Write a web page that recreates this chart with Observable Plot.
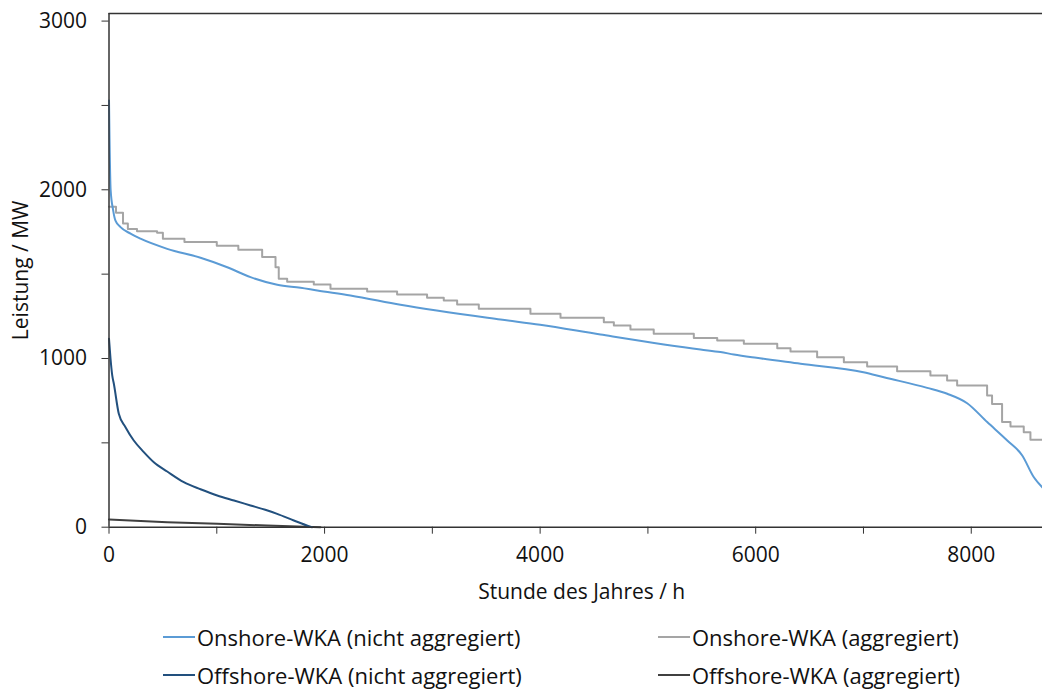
<!DOCTYPE html>
<html><head><meta charset="utf-8">
<script src="https://cdn.jsdelivr.net/npm/d3@7"></script>
<script src="https://cdn.jsdelivr.net/npm/@observablehq/plot@0.6"></script>
<style>
body{margin:0;background:#fff;font-family:"Open Sans",sans-serif;}
#wrap{position:relative;width:1042px;height:689px;overflow:hidden;}
.leg{position:absolute;font-size:22px;color:#111;display:flex;align-items:center;line-height:1;white-space:nowrap;}
.leg .sw{display:inline-block;width:32px;height:2px;margin-right:2px;}
</style></head><body><div id="wrap"></div>
<script>
// Onshore-WKA (nicht aggregiert)
const onNaHours = [0, 5, 15, 39, 60, 107, 200, 292, 540, 849, 1097, 1313, 1561, 1777, 1932, 2240, 2704, 3632, 4000, 4560, 5488, 5673, 5797, 6007, 6416, 7000, 7189, 7591, 7777, 7962, 8148, 8334, 8473, 8581, 8661];
const onNaMW    = [2530, 2300, 2000, 1877, 1817, 1779, 1740, 1710, 1650, 1597, 1541, 1482, 1437, 1419, 1403, 1374, 1318, 1231, 1200, 1142, 1053, 1038, 1024, 1004, 969, 919, 889, 826, 791, 735, 623, 514, 425, 296, 235];
// Onshore-WKA (aggregiert), stepped
const onAgHours = [0, 65, 130, 175, 260, 446, 500, 700, 1000, 1200, 1421, 1545, 1575, 1653, 1900, 2055, 2395, 2673, 2951, 3106, 3230, 3431, 3910, 4189, 4591, 4684, 4838, 5054, 5426, 5643, 5890, 6200, 6323, 6570, 6818, 7034, 7312, 7621, 7776, 7869, 8147, 8193, 8286, 8364, 8487, 8549, 8661];
const onAgMW    = [1900, 1864, 1800, 1768, 1755, 1745, 1710, 1690, 1668, 1645, 1601, 1541, 1473, 1455, 1439, 1413, 1397, 1380, 1360, 1344, 1320, 1295, 1265, 1241, 1215, 1196, 1172, 1147, 1121, 1107, 1087, 1061, 1042, 1008, 978, 953, 925, 899, 870, 840, 781, 731, 623, 597, 563, 518, 518];
// Offshore-WKA (nicht aggregiert)
const offNaHours = [0, 14, 30, 45, 91, 153, 230, 323, 416, 540, 694, 849, 1004, 1160, 1313, 1450, 1560, 1715, 1854, 1885];
const offNaMW    = [1117, 1000, 900, 850, 672, 593, 514, 445, 385, 330, 267, 225, 188, 158, 129, 103, 79, 40, 6, 0];
// Offshore-WKA (aggregiert)
const offAgHours = [0, 540, 1004, 1468, 1962];
const offAgMW    = [46, 30, 20, 10, 0];

const yTicksMajor = [0, 1000, 2000, 3000];
const yTicksMinor = [500, 1500, 2500];
const xTicksMajor = [0, 2000, 4000, 6000, 8000];
const xTicksMinor = [1000, 3000, 5000, 7000];

const seriesNames = ["Onshore-WKA (nicht aggregiert)", "Onshore-WKA (aggregiert)", "Offshore-WKA (nicht aggregiert)", "Offshore-WKA (aggregiert)"];
const seriesColors = ["#5B9BD5", "#A5A5A5", "#22507E", "#404040"];
const xLabel = "Stunde des Jahres / h";
const yLabel = "Leistung / MW";

const zip = (hs, vs) => hs.map((h, i) => ({h, mw: vs[i]}));
const onNa = zip(onNaHours, onNaMW);
const onAg = zip(onAgHours, onAgMW);
const offNa = zip(offNaHours, offNaMW);
const offAg = zip(offAgHours, offAgMW);

const axisColor = "#333";
const txt = "#111";
const chart = Plot.plot({
  width: 1042,
  height: 620,
  marginLeft: 108.5,
  marginRight: 0,
  marginTop: 13,
  marginBottom: 93.3,
  style: {fontFamily: "Open Sans, sans-serif", fontSize: "21px", color: txt, background: "#fff"},
  x: {domain: [0, 8661]},
  y: {domain: [0, 3045]},
  marks: [
    Plot.line(onAg, {x: "h", y: "mw", stroke: seriesColors[1], strokeWidth: 2, curve: "step-after"}),
    Plot.line(onNa, {x: "h", y: "mw", stroke: seriesColors[0], strokeWidth: 2, curve: "monotone-x"}),
    Plot.line(offAg, {x: "h", y: "mw", stroke: seriesColors[3], strokeWidth: 2, curve: "linear"}),
    Plot.line(offNa, {x: "h", y: "mw", stroke: seriesColors[2], strokeWidth: 2, curve: "monotone-x"}),
    Plot.ruleX([0], {stroke: axisColor, strokeWidth: 1.5}),
    Plot.ruleY([0], {stroke: axisColor, strokeWidth: 1.5}),
    Plot.ruleY([3045], {stroke: axisColor, strokeWidth: 1.5}),
    Plot.axisY(yTicksMajor, {tickSize: 7, tickPadding: 15, stroke: axisColor, fill: txt, label: null, fontSize: 21, tickFormat: d => String(d)}),
    Plot.axisY(yTicksMinor, {tickSize: 7, tickFormat: () => "", stroke: axisColor, label: null}),
    Plot.axisX(xTicksMajor, {tickSize: 7, tickPadding: 13, stroke: axisColor, fill: txt, label: null, fontSize: 21, tickFormat: d => String(d)}),
    Plot.axisX(xTicksMinor, {tickSize: 7, tickFormat: () => "", stroke: axisColor, label: null}),
    Plot.text([yLabel], {frameAnchor: "left", dx: -87.5, rotate: -90, textAnchor: "middle", lineAnchor: "middle", fontSize: 21, fill: txt}),
    Plot.text([xLabel], {frameAnchor: "bottom", dy: 65, dx: 6, textAnchor: "middle", lineAnchor: "middle", fontSize: 21, fill: txt})
  ]
});
const wrap = document.getElementById("wrap");
wrap.appendChild(chart);

const legendPos = [[163, 637], [658, 637], [163, 675], [658, 675]];
seriesNames.forEach((name, i) => {
  const d = document.createElement("div");
  d.className = "leg";
  d.style.left = legendPos[i][0] + "px";
  d.style.top = (legendPos[i][1] - 12) + "px";
  d.style.height = "24px";
  const sw = document.createElement("span");
  sw.className = "sw";
  sw.style.background = seriesColors[i];
  d.appendChild(sw);
  d.appendChild(document.createTextNode(name));
  wrap.appendChild(d);
});
</script>
</body></html>
